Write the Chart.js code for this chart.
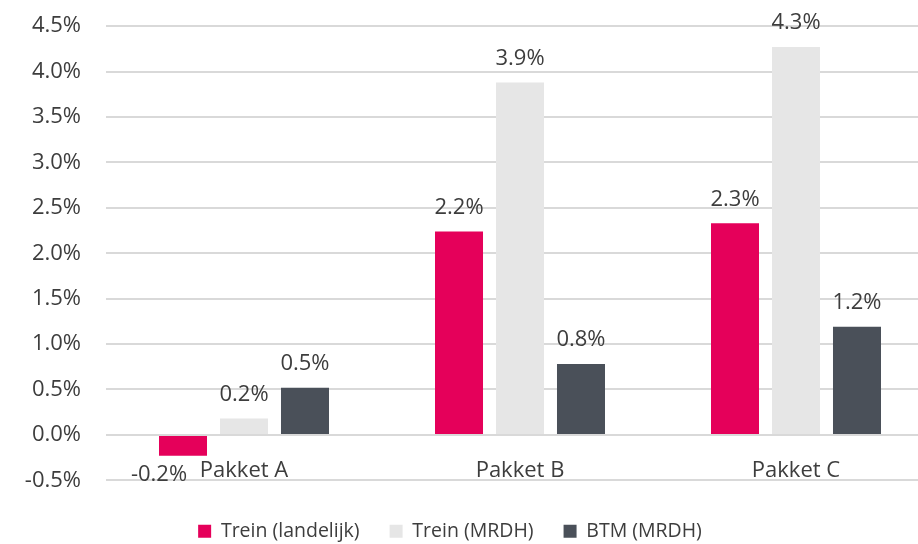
<!DOCTYPE html>
<html>
<head>
<meta charset="utf-8">
<script src="https://cdn.jsdelivr.net/npm/chart.js@4"></script>
<style>
  html, body { margin: 0; padding: 0; background: #fff; overflow: hidden; }
  #wrap { width: 980px; height: 563px; margin-top: -12px; }
</style>
</head>
<body>
<div id="wrap"><canvas id="chart"></canvas></div>
<script>
  const categories = ["Pakket A", "Pakket B", "Pakket C"];
  const treinLandelijk = [-0.23, 2.24, 2.33];
  const treinMrdh = [0.18, 3.88, 4.27];
  const btmMrdh = [0.52, 0.78, 1.19];

  const TEXT = "#3d3d3d";
  const FAMILY = "'Open Sans', sans-serif";
  const FONT = {family: FAMILY, size: 22};
  const LEGEND_SHIFT = -40;

  // percent label over every bar; the negative one sits below, nudged left
  // so it clears the category name
  const valueLabels = {
    id: "valueLabels",
    afterDatasetsDraw(chart) {
      const ctx = chart.ctx;
      ctx.save();
      ctx.font = `${FONT.size}px ${FAMILY}`;
      ctx.fillStyle = TEXT;
      ctx.textAlign = "center";
      ctx.textBaseline = "middle";
      chart.data.datasets.forEach((ds, i) => {
        chart.getDatasetMeta(i).data.forEach((bar, j) => {
          const v = ds.data[j];
          const text = v.toFixed(1) + "%";
          if (v < 0) {
            ctx.fillText(text, bar.x - 24, bar.y + 19);
          } else {
            ctx.fillText(text, bar.x, bar.y - 24);
          }
        });
      });
      ctx.restore();
    },
  };

  // slide the legend row a bit to the left of the canvas centre
  const legendOffset = {
    id: "legendOffset",
    afterLayout(chart) {
      if (!chart.legend) return;
      chart.legend.left += LEGEND_SHIFT;
      chart.legend.right += LEGEND_SHIFT;
    },
  };

  new Chart(document.getElementById("chart"), {
    type: "bar",
    data: {
      labels: categories,
      datasets: [
        {label: "Trein (landelijk)", data: treinLandelijk, backgroundColor: "#E5005A"},
        {label: "Trein (MRDH)", data: treinMrdh, backgroundColor: "#E6E6E6"},
        {label: "BTM (MRDH)", data: btmMrdh, backgroundColor: "#4A5059"},
      ],
    },
    options: {
      responsive: true,
      maintainAspectRatio: false,
      animation: false,
      categoryPercentage: 0.663,
      barPercentage: 0.787,
      layout: {padding: {top: 5, right: 0, left: 0, bottom: 0}},
      plugins: {
        tooltip: {enabled: false},
        legend: {
          position: "bottom",
          // blank title, just adds room above the legend row
          title: {display: true, text: " ", font: {size: 1}, padding: {top: 0, bottom: 10}},
          labels: {
            color: TEXT,
            font: {family: FAMILY, size: 19.5, lineHeight: 2.15},
            boxWidth: 13,
            boxHeight: 13,
            padding: 30,
          },
        },
      },
      scales: {
        x: {
          position: {y: 0},
          grid: {display: false, drawTicks: false},
          border: {display: false},
          ticks: {color: TEXT, font: FONT, padding: 23},
        },
        y: {
          min: -0.5,
          max: 4.5,
          afterFit: (scale) => { scale.width = 106; },
          ticks: {
            stepSize: 0.5,
            color: TEXT,
            font: FONT,
            padding: 25,
            callback: (v) => v.toFixed(1) + "%",
          },
          grid: {color: "#D9D9D9", lineWidth: 2, drawTicks: false},
          border: {display: false},
        },
        // empty right-hand axis, only reserves the margin after the last group
        yRight: {
          position: "right",
          afterFit: (scale) => { scale.width = 46; },
          ticks: {display: false},
          grid: {display: false, drawTicks: false},
          border: {display: false},
        },
      },
    },
    plugins: [valueLabels, legendOffset],
  });
</script>
</body>
</html>
